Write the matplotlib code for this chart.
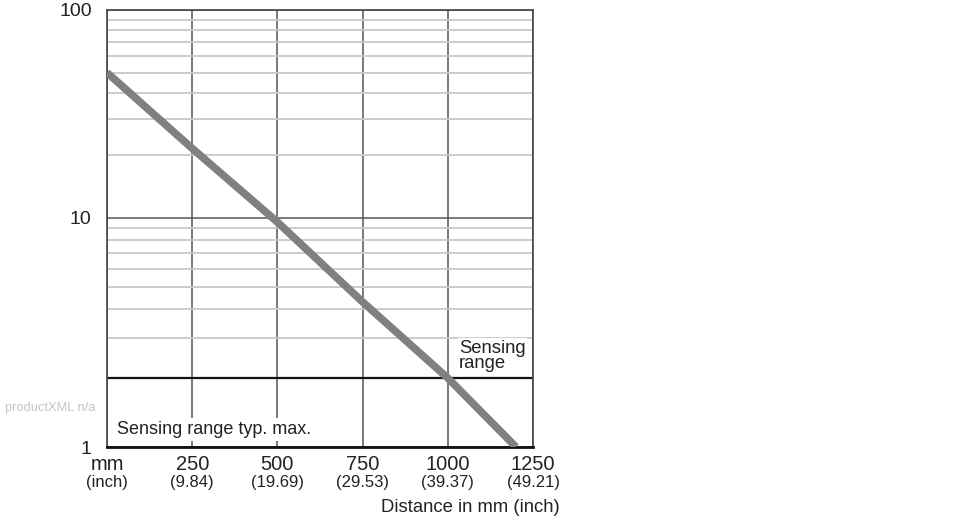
import numpy as np
import matplotlib
matplotlib.use("Agg")
import matplotlib.pyplot as plt

# ---------------------------------------------------------------------------
# data
# ---------------------------------------------------------------------------
distance_mm = [0, 250, 500, 750, 1000, 1200]
excess_gain = [50, 21.6, 9.6, 4.3, 2.0, 1.0]

x_ticks = [0, 250, 500, 750, 1000, 1250]
x_labels = ["mm", "250", "500", "750", "1000", "1250"]
x_labels_inch = ["(inch)", "(9.84)", "(19.69)", "(29.53)", "(39.37)", "(49.21)"]

y_major = [1, 10, 100]
y_minor = [3, 4, 5, 6, 7, 8, 9, 20, 30, 40, 50, 60, 70, 80, 90]
sensing_limit = 2

# the printed log axis has a taller lower decade than upper decade
LOW_DEC = 229.0
HIGH_DEC = 208.0


def _fwd(y):
    ly = np.log10(np.clip(y, 1e-3, None))
    return np.where(ly <= 1, ly * LOW_DEC, LOW_DEC + (ly - 1) * HIGH_DEC)


def _inv(v):
    v = np.asarray(v, dtype=float)
    return np.where(v <= LOW_DEC, 10 ** (v / LOW_DEC),
                    10 ** (1 + (v - LOW_DEC) / HIGH_DEC))


plt.rcParams["font.family"] = ["Liberation Sans", "DejaVu Sans"]

fig = plt.figure(figsize=(9.7, 5.2), dpi=100)
ax = fig.add_axes([107 / 970, 1 - 447 / 520, 426 / 970, 437 / 520])

ax.set_yscale("function", functions=(_fwd, _inv))
ax.set_xlim(0, 1250)
ax.set_ylim(1, 100)

# grid
ax.set_yticks(y_major)
ax.set_yticklabels([str(v) for v in y_major])
ax.set_yticks(y_minor, minor=True)
ax.yaxis.set_minor_formatter(plt.NullFormatter())
ax.grid(True, which="minor", axis="y", color="#c8c8c8", lw=1.3, zorder=1)
ax.grid(True, which="major", axis="y", color="#555555", lw=1.1, zorder=1)
ax.set_xticks(x_ticks)
ax.set_xticklabels(x_labels)
ax.grid(True, which="major", axis="x", color="#555555", lw=1.1, zorder=1)

ax.tick_params(axis="both", which="both", length=0)
ax.tick_params(axis="x", pad=6, labelsize=14.5, colors="#222222")
ax.tick_params(axis="y", pad=11, labelsize=14, colors="#222222")

for x, lab in zip(x_ticks, x_labels_inch):
    ax.annotate(lab, xy=(x, 0), xycoords=("data", "axes fraction"),
                xytext=(0, -35), textcoords="offset pixels",
                ha="center", va="center", fontsize=12, color="#222222")

for s in ["left", "right", "top"]:
    ax.spines[s].set_color("#444444")
    ax.spines[s].set_linewidth(1.2)
ax.spines["bottom"].set_color("#111111")
ax.spines["bottom"].set_linewidth(2)

# sensing range limit
ax.axhline(sensing_limit, color="#111111", lw=1.6, zorder=2)

ax.plot(distance_mm, excess_gain, color="#808080", lw=5.5,
        solid_capstyle="butt", zorder=3)

ax.text(1033, 2.12, "Sensing\nrange", ha="left", va="bottom",
        fontsize=13.3, linespacing=0.9, color="#222222", zorder=4,
        bbox=dict(facecolor="white", edgecolor="none", pad=1))
ax.text(30, 1.19, "Sensing range typ. max.", ha="left", va="center",
        fontsize=13, color="#222222", zorder=4,
        bbox=dict(facecolor="white", edgecolor="none", pad=2))

fig.text(560 / 970, 1 - 507 / 520, "Distance in mm (inch)", ha="right",
         va="center", fontsize=13.3, color="#222222")
fig.text(5 / 970, 1 - 408 / 520, "productXML n/a", ha="left", va="center",
         fontsize=9.3, color="#c4c4c4")

fig.savefig("out.png", dpi=100)
